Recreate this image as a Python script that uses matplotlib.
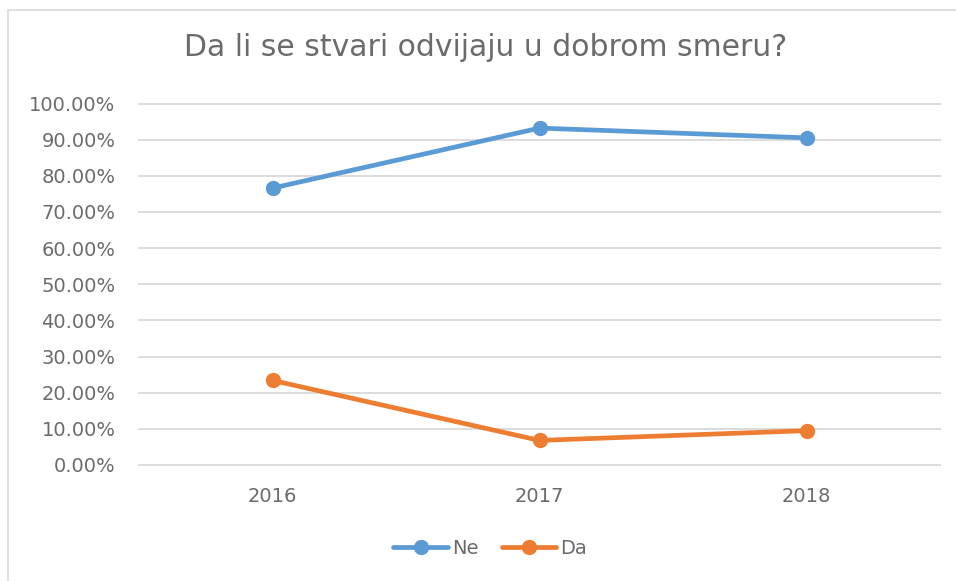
import matplotlib.pyplot as plt
from matplotlib.patches import Rectangle
from matplotlib.ticker import FuncFormatter

years = ["2016", "2017", "2018"]
ne = [76.6, 93.2, 90.5]
da = [23.4, 6.8, 9.5]
y_ticks = [0, 10, 20, 30, 40, 50, 60, 70, 80, 90, 100]

W, H = 956, 581
fig = plt.figure(figsize=(W / 100, H / 100), dpi=100)
plt.rcParams['font.family'] = ['DejaVu Sans']
text_col = "#6b6b6b"

# outer chart border (light gray, clipped on right/bottom like the reference)
fig.patches.append(Rectangle((8 / W, -0.1), 1.2, 1 - 10 / H + 0.1, transform=fig.transFigure,
                             fill=False, edgecolor="#d9d9d9", linewidth=1.2))

left, right, top, bottom = 139, 940, 103.5, 465
ax = fig.add_axes([left / W, 1 - bottom / H, (right - left) / W, (bottom - top) / H])

x = range(len(years))
ax.plot(x, ne, color="#5b9bd5", linewidth=3.4, marker="o", markersize=10,
        solid_capstyle="round", label="Ne", zorder=3)
ax.plot(x, da, color="#ed7d31", linewidth=3.4, marker="o", markersize=10,
        solid_capstyle="round", label="Da", zorder=3)

ax.set_xlim(-0.5, 2.5)
ax.set_ylim(0, 100)
ax.set_yticks(y_ticks)
ax.yaxis.set_major_formatter(FuncFormatter(lambda v, p: f"{v:.2f}%"))
ax.set_xticks(list(x))
ax.set_xticklabels(years)
ax.grid(axis="y", color="#d9d9d9", linewidth=1.3)
for g in ax.get_ygridlines():
    g.set_clip_on(False)
ax.set_axisbelow(True)
for s in ax.spines.values():
    s.set_visible(False)
ax.tick_params(length=0, colors=text_col, labelsize=14)
ax.tick_params(axis="y", pad=17)
ax.tick_params(axis="x", pad=16)

fig.text(486 / W, 1 - 47 / H, "Da li se stvari odvijaju u dobrom smeru?",
         ha="center", va="center", fontsize=21.5, color=text_col)

fig.legend(loc="center", bbox_to_anchor=(490 / W, 1 - 548 / H), ncol=2, frameon=False,
           fontsize=14, labelcolor=text_col, handlelength=2.8, handletextpad=0.2,
           columnspacing=1.2)

fig.savefig("out.png", dpi=100)
